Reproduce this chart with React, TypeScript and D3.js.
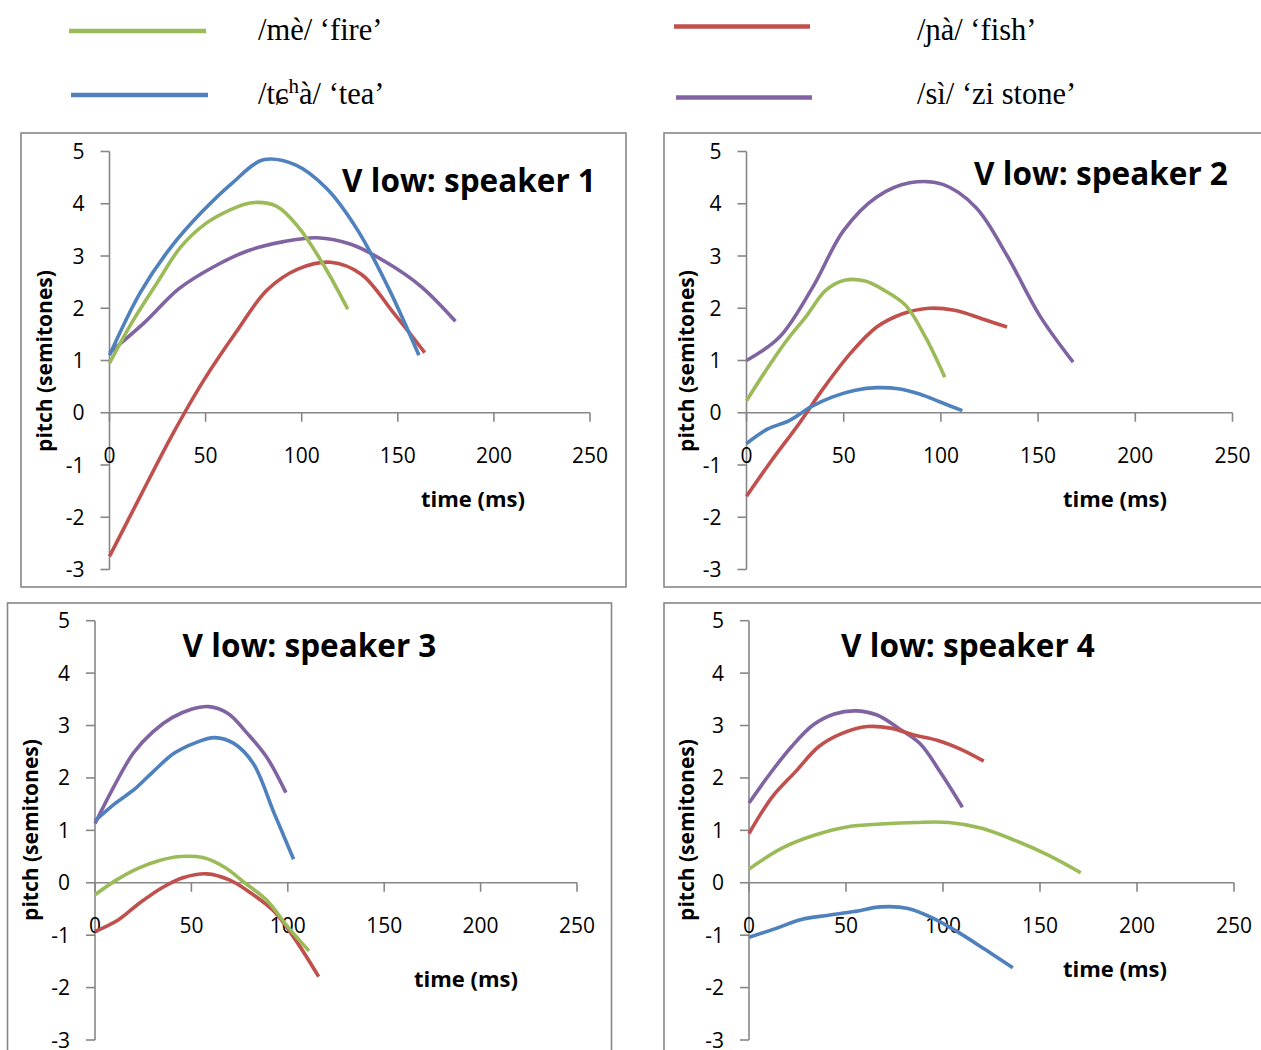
import React from "react";
import * as d3 from "d3";

// ---------- data ----------
const seriesNames = ["fire", "fish", "tea", "stone"];
const seriesColors = ["#9BBB59", "#C0504D", "#4F81BD", "#8064A2"];
const xTicks = [0, 50, 100, 150, 200, 250];
const yTicks = [5, 4, 3, 2, 1, 0, -1, -2, -3];
const panelTitles = ["V low: speaker 1", "V low: speaker 2", "V low: speaker 3", "V low: speaker 4"];

// speaker 1
const s1FireT = [0, 12, 25, 37, 50, 62, 74, 87, 99, 112, 124];
const s1FireV = [0.95, 1.75, 2.5, 3.17, 3.62, 3.87, 4.02, 3.95, 3.52, 2.79, 1.98];
const s1FishT = [0, 16, 33, 49, 66, 82, 98, 115, 131, 148, 164];
const s1FishV = [-2.75, -1.6, -0.4, 0.62, 1.55, 2.35, 2.75, 2.88, 2.65, 1.9, 1.15];
const s1TeaT = [0, 16, 32, 48, 64, 80, 97, 113, 129, 145, 161];
const s1TeaV = [1.1, 2.3, 3.17, 3.84, 4.4, 4.84, 4.74, 4.29, 3.5, 2.4, 1.1];
const s1StoneT = [0, 18, 36, 54, 72, 90, 108, 126, 144, 162, 180];
const s1StoneV = [1.15, 1.72, 2.37, 2.79, 3.1, 3.27, 3.35, 3.22, 2.88, 2.42, 1.75];

// speaker 2
const s2FireT = [0, 10, 20, 31, 41, 51, 61, 71, 82, 92, 102];
const s2FireV = [0.23, 0.81, 1.35, 1.86, 2.35, 2.54, 2.52, 2.34, 2.05, 1.45, 0.68];
const s2FishT = [0, 13, 27, 40, 54, 67, 80, 94, 107, 121, 134];
const s2FishV = [-1.6, -0.91, -0.21, 0.49, 1.16, 1.64, 1.89, 2.0, 1.96, 1.8, 1.64];
const s2TeaT = [0, 11, 22, 33, 44, 56, 67, 78, 89, 100, 111];
const s2TeaV = [-0.59, -0.31, -0.15, 0.11, 0.3, 0.43, 0.48, 0.46, 0.36, 0.2, 0.04];
const s2StoneT = [0, 17, 34, 50, 67, 84, 101, 118, 134, 151, 168];
const s2StoneV = [1.0, 1.45, 2.4, 3.49, 4.13, 4.4, 4.37, 3.93, 3.01, 1.85, 0.97];

// speaker 3
const s3FireT = [0, 11, 22, 33, 44, 56, 67, 78, 89, 100, 111];
const s3FireV = [-0.23, 0.05, 0.27, 0.42, 0.5, 0.48, 0.3, -0.01, -0.33, -0.84, -1.3];
const s3FishT = [0, 12, 23, 35, 46, 58, 70, 81, 93, 104, 116];
const s3FishV = [-0.93, -0.71, -0.39, -0.09, 0.1, 0.17, 0.05, -0.2, -0.55, -1.09, -1.79];
const s3TeaT = [0, 10, 21, 31, 41, 52, 62, 72, 82, 93, 103];
const s3TeaV = [1.18, 1.5, 1.8, 2.15, 2.47, 2.67, 2.77, 2.66, 2.28, 1.32, 0.45];
const s3StoneT = [0, 10, 20, 30, 40, 50, 59, 69, 79, 89, 99];
const s3StoneV = [1.13, 1.85, 2.48, 2.88, 3.15, 3.31, 3.36, 3.23, 2.85, 2.4, 1.72];

// speaker 4
const s4FireT = [0, 17, 34, 51, 68, 86, 103, 120, 137, 154, 171];
const s4FireV = [0.26, 0.66, 0.91, 1.07, 1.12, 1.15, 1.15, 1.04, 0.81, 0.53, 0.19];
const s4FishT = [0, 12, 24, 36, 48, 61, 73, 85, 97, 109, 121];
const s4FishV = [0.94, 1.64, 2.12, 2.6, 2.85, 2.98, 2.95, 2.82, 2.72, 2.55, 2.32];
const s4TeaT = [0, 14, 27, 41, 54, 68, 82, 95, 109, 122, 136];
const s4TeaV = [-1.04, -0.87, -0.7, -0.62, -0.55, -0.46, -0.49, -0.68, -0.97, -1.28, -1.62];
const s4StoneT = [0, 11, 22, 33, 44, 55, 66, 77, 88, 99, 110];
const s4StoneV = [1.52, 2.09, 2.6, 3.01, 3.22, 3.28, 3.2, 2.95, 2.66, 2.09, 1.44];

const speakerSeries = [
  [[s1FireT, s1FireV], [s1FishT, s1FishV], [s1TeaT, s1TeaV], [s1StoneT, s1StoneV]],
  [[s2FireT, s2FireV], [s2FishT, s2FishV], [s2TeaT, s2TeaV], [s2StoneT, s2StoneV]],
  [[s3FireT, s3FireV], [s3FishT, s3FishV], [s3TeaT, s3TeaV], [s3StoneT, s3StoneV]],
  [[s4FireT, s4FireV], [s4FishT, s4FishV], [s4TeaT, s4TeaV], [s4StoneT, s4StoneV]],
];
// draw order (later on top)
const drawOrder = [3, 1, 0, 2];

// ---------- layout ----------
const panels = [
  { bx: 21, by: 133, bw: 605, bh: 454, x0: 109.5, x1: 590, yTop: 151.5, yBot: 569.5, title: [469, 192], xt: [473, 507], yt: [52, 361] },
  { bx: 664, by: 133, bw: 620, bh: 454, x0: 746.5, x1: 1232.5, yTop: 151.5, yBot: 569.5, title: [1101, 185], xt: [1115, 507], yt: [694, 361] },
  { bx: 7.5, by: 603, bw: 604, bh: 480, x0: 95, x1: 577, yTop: 620.7, yBot: 1040, title: [309.5, 657], xt: [466, 987], yt: [38, 830] },
  { bx: 664, by: 603, bw: 620, bh: 480, x0: 749, x1: 1234, yTop: 620.7, yBot: 1040, title: [968, 657], xt: [1115, 977], yt: [694, 830] },
];

const AXIS = "#878787";
const SANS = "'Open Sans', 'Liberation Sans', sans-serif";
const SERIF = "'Liberation Serif', 'DejaVu Serif', serif";

function Panel({ p, idx }: { p: any; idx: number }) {
  const x = d3.scaleLinear().domain([0, 250]).range([p.x0, p.x1]);
  const y = d3.scaleLinear().domain([5, -3]).range([p.yTop, p.yBot]);
  const line = d3
    .line<[number, number]>()
    .x((d) => x(d[0]))
    .y((d) => y(d[1]))
    .curve(d3.curveCatmullRom.alpha(0.5));
  const y0 = y(0);
  return (
    <g>
      <rect x={p.bx} y={p.by} width={p.bw} height={p.bh} fill="white" stroke={AXIS} strokeWidth={1.6} />
      {/* y axis */}
      <line x1={p.x0} x2={p.x0} y1={y(5)} y2={y(-3)} stroke={AXIS} strokeWidth={1.6} />
      {yTicks.map((t) => (
        <g key={"y" + t}>
          <line x1={p.x0 - 9} x2={p.x0} y1={y(t)} y2={y(t)} stroke={AXIS} strokeWidth={1.6} />
          <text x={p.x0 - 25} y={y(t) + 7.5} textAnchor="end" fontFamily={SANS} fontSize={21} fill="#000">
            {t}
          </text>
        </g>
      ))}
      {/* x axis */}
      <line x1={p.x0} x2={p.x1} y1={y0} y2={y0} stroke={AXIS} strokeWidth={1.6} />
      {xTicks.map((t) => (
        <g key={"x" + t}>
          <line x1={x(t)} x2={x(t)} y1={y0} y2={y0 + 9} stroke={AXIS} strokeWidth={1.6} />
          <text x={x(t)} y={y0 + 50} textAnchor="middle" fontFamily={SANS} fontSize={21} fill="#000">
            {t}
          </text>
        </g>
      ))}
      {/* series */}
      {drawOrder.map((si) => {
        const [ts, vs] = speakerSeries[idx][si];
        const pts = ts.map((t: number, i: number) => [t, vs[i]] as [number, number]);
        return (
          <path key={seriesNames[si]} d={line(pts) || ""} fill="none" stroke={seriesColors[si]} strokeWidth={3.6} strokeLinecap="butt" strokeLinejoin="round" />
        );
      })}
      <text x={p.title[0]} y={p.title[1]} textAnchor="middle" fontFamily={SANS} fontWeight="bold" fontSize={31.5} fill="#000">
        {panelTitles[idx]}
      </text>
      <text x={p.xt[0]} y={p.xt[1]} textAnchor="middle" fontFamily={SANS} fontWeight="bold" fontSize={22} fill="#000">
        time (ms)
      </text>
      <text
        transform={`translate(${p.yt[0]},${p.yt[1]}) rotate(-90)`}
        textAnchor="middle"
        fontFamily={SANS}
        fontWeight="bold"
        fontSize={21}
        fill="#000"
      >
        pitch (semitones)
      </text>
    </g>
  );
}

export default function App() {
  return (
    <svg width={1261} height={1050} style={{ position: "absolute", left: 0, top: 0, background: "white" }}>
      <rect x={0} y={0} width={1261} height={1050} fill="white" />
      {/* legend */}
      <line x1={69} x2={206} y1={31} y2={31} stroke={seriesColors[0]} strokeWidth={4.5} />
      <text x={258} y={40} fontFamily={SERIF} fontSize={30.5}>/mè/ ‘fire’</text>
      <line x1={674} x2={810} y1={26.5} y2={26.5} stroke={seriesColors[1]} strokeWidth={4.5} />
      <text x={917} y={40} fontFamily={SERIF} fontSize={30.5}>/ɲà/ ‘fish’</text>
      <line x1={71} x2={208} y1={95} y2={95} stroke={seriesColors[2]} strokeWidth={4.5} />
      <text x={258} y={104} fontFamily={SERIF} fontSize={30.5}>
        <tspan>/tɕ</tspan>
        <tspan dy={-11} fontSize={21}>h</tspan>
        <tspan dy={11}>à/ ‘tea’</tspan>
      </text>
      <line x1={676} x2={812} y1={97.5} y2={97.5} stroke={seriesColors[3]} strokeWidth={4.5} />
      <text x={917} y={104} fontFamily={SERIF} fontSize={30.5}>/sì/ ‘zi stone’</text>
      {panels.map((p, i) => (
        <Panel key={i} p={p} idx={i} />
      ))}
    </svg>
  );
}
